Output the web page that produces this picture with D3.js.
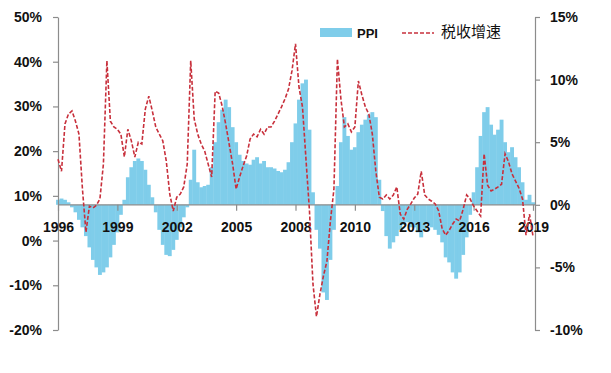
<!DOCTYPE html>
<html><head><meta charset="utf-8">
<script src="https://d3js.org/d3.v7.min.js"></script>
<style>body{margin:0;background:#fff}svg{display:block}</style>
</head><body><div id="chart"></div>
<script>
// x-axis category labels (every 17 periods)
const tickYears = ["1996","1999","2002","2005","2008","2010","2013","2016","2019"];
const tickStep = 17;
// PPI (right axis, %)
const ppi = [0.4,0.5,0.4,0.2,-0.2,-0.6,-1.2,-1.8,-2.5,-3.4,
 -4.4,-5.0,-5.6,-5.4,-5.0,-4.2,-3.2,-2.2,-0.8,0.4,
 2.2,3.0,3.5,3.7,3.5,2.8,1.6,0.6,-0.6,-2.0,
 -3.2,-4.0,-4.1,-3.6,-2.8,-1.8,-1.0,-0.2,2.0,4.4,
 1.8,1.4,1.5,1.6,3.0,5.0,6.6,7.6,8.4,7.8,
 6.2,5.0,4.0,3.5,3.3,3.2,3.6,3.8,3.3,3.5,
 3.0,3.0,2.9,2.7,2.6,2.8,3.4,5.0,6.5,8.4,
 9.7,10.0,6.0,1.0,-2.0,-3.5,-7.0,-7.6,-4.4,-2.0,
 1.5,5.0,7.0,5.5,4.4,4.6,5.8,6.4,6.8,7.2,
 7.4,7.0,2.0,-0.5,-2.5,-3.5,-3.0,-2.5,-2.0,-1.6,
 -1.4,-1.8,-1.8,-2.2,-2.6,-2.0,-1.5,-1.8,-2.0,-2.4,
 -3.0,-4.2,-4.6,-5.4,-5.9,-5.4,-4.0,-2.6,-0.8,1.0,
 3.0,5.5,7.4,7.8,6.4,5.6,6.0,6.8,5.0,4.2,
 4.6,3.8,3.0,1.8,0.4,0.8,0.2];
// 税收增速 (left axis, %)
const tax = [18.2,15.5,26.1,28.3,29.0,26.7,23.8,11.5,1.9,7.7,
 7.3,7.9,9.3,17.1,40.2,26.7,25.4,24.9,23.8,18.7,
 24.9,22.3,18.7,22.0,21.6,29.4,32.3,29.0,25.4,23.8,
 22.3,17.8,10.4,6.6,9.7,10.4,12.0,17.1,40.2,27.2,
 23.8,21.6,20.0,17.1,14.2,33.4,33.0,30.1,26.1,21.6,
 17.1,11.5,14.2,16.7,18.9,22.7,23.8,23.2,24.9,23.8,
 25.4,25.4,26.7,28.3,29.9,31.7,33.9,38.0,44.0,34.3,
 29.9,18.2,6.6,-9.7,-17.0,-12.0,-7.9,-4.6,4.4,11.5,
 40.6,31.7,25.4,26.1,24.3,25.4,35.7,32.6,29.9,28.3,
 23.8,15.5,9.7,9.3,10.2,9.3,10.2,12.0,5.9,4.8,
 7.0,8.2,9.5,10.4,15.5,10.2,9.3,8.8,8.2,6.6,
 2.6,1.2,2.3,3.7,4.8,4.4,7.0,10.2,9.3,7.7,
 6.6,5.5,19.4,12.4,11.1,11.5,12.0,12.6,19.4,17.6,
 14.9,13.3,11.7,9.3,1.2,5.9,1.0];
const leftTicks = [-20,-10,0,10,20,30,40,50];
const rightTicks = [-10,-5,0,5,10,15];
const seriesNames = ["PPI","税收增速"];

const W = 611, H = 373;
const svg = d3.select("#chart").append("svg").attr("width", W).attr("height", H);
const N = ppi.length;
const x = d3.scaleLinear().domain([0, N - 1]).range([58, 533]);
const yL = d3.scaleLinear().domain([-20, 50]).range([330, 17]);
const yR = d3.scaleLinear().domain([-10, 15]).range([330, 17]);
const bw = (x(1) - x(0)) + 0.4;
const blue = "#7fcdea", red = "#c8303c", axisCol = "#8c8c8c";
const font = "'Liberation Sans', Arial, sans-serif";

// bars
svg.append("g").selectAll("rect").data(ppi).join("rect")
  .attr("x", (d, i) => x(i) - bw / 2)
  .attr("width", bw)
  .attr("y", d => Math.min(yR(d), yR(0)))
  .attr("height", d => Math.abs(yR(d) - yR(0)))
  .attr("fill", blue);

// axes
const styleAxis = g => {
  g.select(".domain").attr("stroke", axisCol).attr("stroke-width", 1.2);
  g.selectAll(".tick line").attr("stroke", axisCol).attr("stroke-width", 1.2);
  g.selectAll("text").attr("font-family", font).attr("font-size", 14)
    .attr("font-weight", "bold").attr("fill", "#111");
};
svg.append("g").attr("transform", "translate(58,0)")
  .call(d3.axisLeft(yL).tickValues(leftTicks).tickFormat(d => d + "%").tickSize(5).tickSizeOuter(0).tickPadding(11))
  .call(styleAxis);
svg.append("g").attr("transform", "translate(535,0)")
  .call(d3.axisRight(yR).tickValues(rightTicks).tickFormat(d => d + "%").tickSize(5).tickSizeOuter(0).tickPadding(10))
  .call(styleAxis);
const xTickIdx = tickYears.map((t, i) => i * tickStep);
const xAxisScale = x.copy().range([58, 533]);
const xg = svg.append("g").attr("transform", `translate(0,${yR(0)})`)
  .call(d3.axisBottom(xAxisScale).tickValues(xTickIdx).tickFormat((d, i) => tickYears[i]).tickSize(6).tickSizeOuter(0).tickPadding(11))
  .call(styleAxis);
xg.select(".domain").attr("d", `M58,0H535`);

// line
svg.append("path").datum(tax)
  .attr("fill", "none").attr("stroke", red).attr("stroke-width", 1.6)
  .attr("stroke-dasharray", "4,2")
  .attr("d", d3.line().x((d, i) => x(i)).y(d => yL(d)));

// legend
const lg = svg.append("g");
lg.append("rect").attr("x", 320).attr("y", 28).attr("width", 32).attr("height", 9).attr("fill", blue);
lg.append("text").attr("x", 357).attr("y", 37.5).text(seriesNames[0])
  .attr("font-family", font).attr("font-size", 13).attr("font-weight", "bold").attr("fill", "#111");
lg.append("line").attr("x1", 402).attr("x2", 434).attr("y1", 33).attr("y2", 33)
  .attr("stroke", red).attr("stroke-width", 1.6).attr("stroke-dasharray", "4,2");
lg.append("text").attr("x", 441).attr("y", 36.5).text(seriesNames[1])
  .attr("font-family", "'Noto Sans CJK SC', sans-serif").attr("font-size", 15).attr("fill", "#111");
</script></body></html>
